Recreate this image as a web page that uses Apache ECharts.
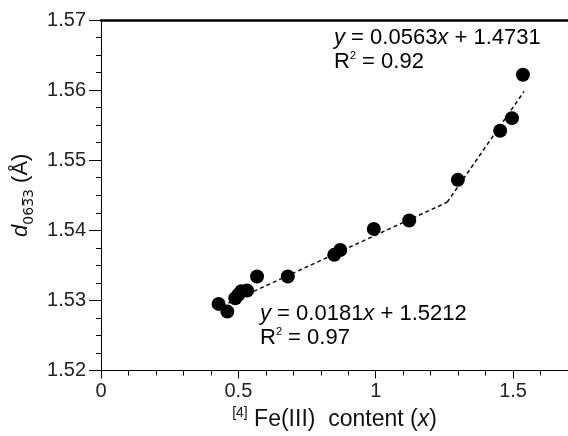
<!DOCTYPE html>
<html>
<head>
<meta charset="utf-8">
<script src="https://cdn.jsdelivr.net/npm/echarts@6/dist/echarts.min.js"></script>
<style>
  html, body { margin: 0; padding: 0; background: #fff; }
  #main { width: 568px; height: 436px; }
</style>
</head>
<body>
<div id="main"></div>
<script>
// 测量点 [x, d]
const points = [
  [0.428, 1.5295], [0.46, 1.5284], [0.489, 1.5303], [0.50, 1.5308],
  [0.511, 1.5313], [0.532, 1.5314], [0.568, 1.5334], [0.68, 1.5334],
  [0.849, 1.5365], [0.871, 1.5372], [0.993, 1.5402], [1.122, 1.5414],
  [1.299, 1.5472], [1.453, 1.5542], [1.496, 1.5560], [1.536, 1.5622]
]
// 两段拟合线 (从图上读取的端点)
const fitLow = [[0.44, 1.5292], [1.26, 1.5440]]
const fitHigh = [[1.26, 1.5440], [1.54, 1.5598]]
const fitLowText = ['y = 0.0181x + 1.5212', 'R² = 0.97']
const fitHighText = ['y = 0.0563x + 1.4731', 'R² = 0.92']

const font = '"Liberation Sans", Arial, sans-serif'

function eqText(lines) {
  var parts = lines[0].split(/x/)
  return '{i|y}{t|' + parts[0].slice(1) + '}{i|x}{t|' + parts[1] + '}\n' +
    '{t|R}{sup|2}{t|' + lines[1].slice(2) + '}'
}

const richEq = {
  t: { fontSize: 22, fontFamily: font, color: '#111', lineHeight: 24 },
  i: { fontSize: 22, fontFamily: font, color: '#111', fontStyle: 'italic', lineHeight: 24 },
  sup: { fontSize: 11, fontFamily: font, color: '#111', verticalAlign: 'top', lineHeight: 24 }
}

var chart = echarts.init(document.getElementById('main'), null, { renderer: 'canvas' })

chart.setOption({
  animation: false,
  backgroundColor: '#fff',
  grid: { left: 101, top: 20, width: 473, height: 352 },
  xAxis: [{
    type: 'value',
    min: 0,
    max: 1.7,
    interval: 0.5,
    name: '{sup|[4]}{t| Fe(III)  content (}{i|x}{t|)}',
    nameLocation: 'middle',
    nameGap: 36,
    nameTextStyle: {
      rich: {
        t: { fontSize: 23, fontFamily: font, color: '#111', lineHeight: 26 },
        i: { fontSize: 23, fontFamily: font, color: '#111', fontStyle: 'italic', lineHeight: 26 },
        sup: { fontSize: 14, fontFamily: font, color: '#111', verticalAlign: 'top', lineHeight: 26 }
      }
    },
    axisLine: { onZero: false, lineStyle: { color: '#000', width: 1 } },
    axisTick: { inside: false, length: 8, lineStyle: { color: '#000' } },
    minorTick: { show: true, splitNumber: 5, length: 5, lineStyle: { color: '#000' } },
    axisLabel: {
      margin: 11, fontSize: 20, fontFamily: font, color: '#222',
      showMaxLabel: false,
      formatter: function (v) { return String(v) }
    },
    splitLine: { show: false }
  }, {
    type: 'value',
    position: 'top',
    min: 0,
    max: 1.7,
    axisLine: { show: true, lineStyle: { color: '#000', width: 2.5 } },
    axisTick: { show: false },
    axisLabel: { show: false },
    splitLine: { show: false }
  }],
  yAxis: {
    type: 'value',
    min: 1.52,
    max: 1.57,
    interval: 0.01,
    name: '{i|d}{sub|063\u03053}{t| (Å)}',
    nameLocation: 'middle',
    nameGap: 62,
    nameTextStyle: {
      rich: {
        t: { fontSize: 22, fontFamily: font, color: '#111', lineHeight: 30 },
        i: { fontSize: 22, fontFamily: font, color: '#111', fontStyle: 'italic', lineHeight: 30 },
        sub: { fontSize: 14, fontFamily: '"DejaVu Sans", sans-serif', color: '#111', verticalAlign: 'bottom', lineHeight: 30 }
      }
    },
    axisLine: { show: true, lineStyle: { color: '#000', width: 1 } },
    axisTick: { inside: false, length: 12, lineStyle: { color: '#000' } },
    minorTick: { show: true, splitNumber: 4, length: 5, lineStyle: { color: '#000' } },
    axisLabel: {
      margin: 15, fontSize: 20, fontFamily: font, color: '#222',
      formatter: function (v) { return v.toFixed(2) }
    },
    splitLine: { show: false }
  },
  series: [{
    type: 'line',
    data: fitLow,
    symbol: 'none',
    lineStyle: { color: '#111', width: 1.5, type: [4, 3] },
    z: 1
  }, {
    type: 'line',
    data: fitHigh,
    symbol: 'none',
    lineStyle: { color: '#111', width: 1.5, type: [4, 3] },
    z: 1
  }, {
    type: 'scatter',
    data: points,
    symbol: 'circle',
    symbolSize: 14,
    itemStyle: { color: '#000', opacity: 1 },
    z: 3
  }],
  graphic: [{
    type: 'text',
    left: 334,
    top: 27,
    style: { text: eqText(fitHighText), rich: richEq }
  }, {
    type: 'text',
    left: 260,
    top: 303,
    style: { text: eqText(fitLowText), rich: richEq }
  }]
})
</script>
</body>
</html>
